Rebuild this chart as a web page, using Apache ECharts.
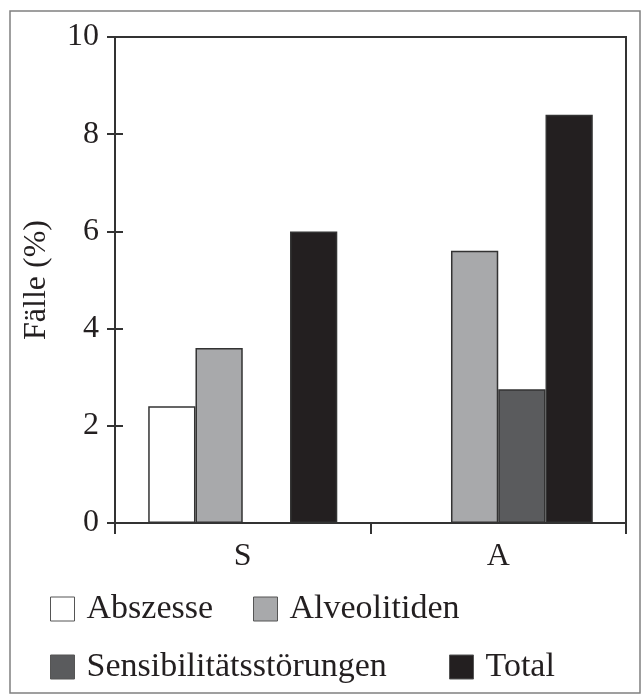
<!DOCTYPE html>
<html>
<head>
<meta charset="utf-8">
<script src="https://cdn.jsdelivr.net/npm/echarts@6/dist/echarts.min.js"></script>
<style>
html,body{margin:0;padding:0;background:#fff;}
#c{width:643px;height:695px;}
</style>
</head>
<body>
<div id="c"></div>
<script>
const categories = ['S', 'A'];
const seriesNames = ['Abszesse', 'Alveolitiden', 'Sensibilitätsstörungen', 'Total'];
const abszesse = [2.4, 0];
const alveolitiden = [3.6, 5.6];
const sensibilitaet = [0, 2.75];
const total = [6.0, 8.4];
const yTicks = [0, 2, 4, 6, 8, 10];
const colors = ['#ffffff', '#a8a9ab', '#5a5b5d', '#231f20'];

const font = 'Liberation Serif';
const ink = '#231f20';
const values = [abszesse, alveolitiden, sensibilitaet, total];

const chart = echarts.init(document.getElementById('c'), null, {renderer: 'canvas'});

const legendPos = [
  {left: 50, top: 592},
  {left: 253, top: 592},
  {left: 50, top: 650},
  {left: 449, top: 650}
];

chart.setOption({
  animation: false,
  backgroundColor: '#fff',
  graphic: [{
    type: 'rect',
    shape: {x: 10, y: 11, width: 630, height: 682},
    style: {fill: 'none', stroke: '#808080', lineWidth: 1.5},
    silent: true
  }],
  grid: {
    left: 115, right: 17, top: 37, bottom: 172,
    show: true, borderColor: '#333', borderWidth: 2, backgroundColor: 'transparent'
  },
  legend: seriesNames.map((n, i) => ({
    data: [n],
    left: legendPos[i].left,
    top: legendPos[i].top,
    icon: 'rect',
    itemWidth: 24,
    itemHeight: 24,
    padding: 0,
    selectedMode: false,
    itemStyle: {borderColor: '#555', borderWidth: 1},
    textStyle: {fontFamily: font, fontSize: 34, color: ink, padding: [0, 0, 0, 7]}
  })),
  xAxis: {
    type: 'category',
    data: categories,
    axisLine: {lineStyle: {color: '#333', width: 2}},
    axisTick: {show: true, length: 11, lineStyle: {color: '#333', width: 2}},
    axisLabel: {fontFamily: font, fontSize: 32, color: ink, margin: 18}
  },
  yAxis: [{
    type: 'value',
    min: 0, max: 10, interval: 2,
    name: 'Fälle (%)',
    nameLocation: 'middle',
    nameGap: 62,
    nameTextStyle: {fontFamily: font, fontSize: 32, color: ink},
    axisLine: {show: true, lineStyle: {color: '#333', width: 2}},
    axisTick: {show: false},
    axisLabel: {fontFamily: font, fontSize: 32, color: ink, margin: 16,
      formatter: v => yTicks.indexOf(v) >= 0 ? String(v) : ''},
    splitLine: {show: false}
  }, {
    type: 'value',
    min: 0, max: 10, interval: 2,
    position: 'left',
    offset: 8,
    axisLine: {show: false},
    axisTick: {show: true, inside: true, length: 16, lineStyle: {color: '#333', width: 2}},
    axisLabel: {show: false},
    splitLine: {show: false}
  }],
  series: seriesNames.map((n, i) => ({
    name: n,
    type: 'bar',
    data: values[i],
    barGap: '0%',
    barCategoryGap: '26%',
    itemStyle: {color: colors[i], borderColor: '#333', borderWidth: 1.5},
    emphasis: {disabled: true}
  }))
});
</script>
</body>
</html>
